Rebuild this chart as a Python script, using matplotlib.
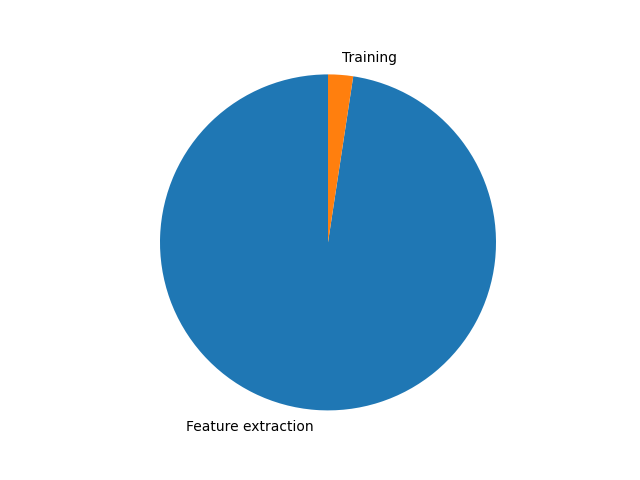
import matplotlib
matplotlib.use("Agg")
import matplotlib.pyplot as plt

labels = ["Feature extraction", "Training"]
values = [97.6, 2.4]

fig, ax = plt.subplots(figsize=(6.4, 4.8), dpi=100)
ax.pie(values, labels=labels, startangle=90)
ax.axis("equal")
fig.savefig("out.png")
